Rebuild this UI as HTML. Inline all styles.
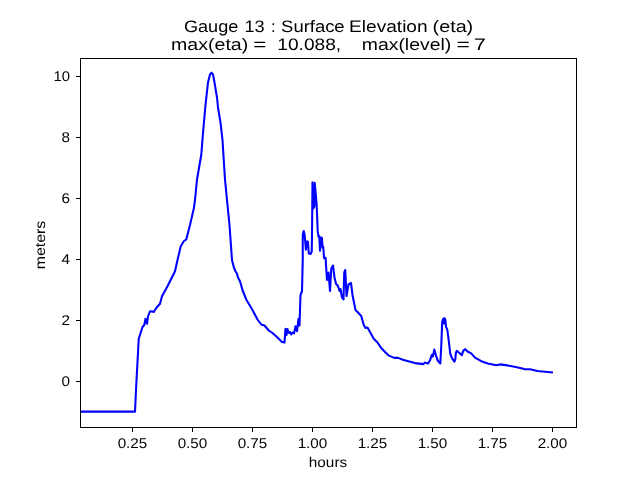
<!DOCTYPE html>
<html><head><meta charset="utf-8"><title>Gauge 13</title>
<style>
html,body{margin:0;padding:0;background:#fff;}
body{width:640px;height:480px;overflow:hidden;}
svg{display:block;}
text{font-family:"Liberation Sans",sans-serif;fill:#000;text-rendering:geometricPrecision;}
</style></head><body>
<svg width="640" height="480" viewBox="0 0 640 480">
<rect x="0" y="0" width="640" height="480" fill="#fff"/>
<defs><filter id="gs" x="0" y="0" width="640" height="480" filterUnits="userSpaceOnUse" color-interpolation-filters="sRGB"><feColorMatrix type="saturate" values="0"/></filter></defs>
<clipPath id="ax"><rect x="80.5" y="58.5" width="496" height="369"/></clipPath>
<path clip-path="url(#ax)" d="M80.00,411.60 L135.00,411.60 L136.25,385.00 L138.75,338.75 L142.50,327.00 L144.25,325.00 L145.50,318.75 L147.00,323.75 L148.00,316.50 L150.00,311.25 L152.50,311.50 L153.75,312.00 L156.25,308.00 L160.00,303.75 L162.00,296.25 L167.50,286.25 L175.00,271.25 L177.50,260.00 L180.75,246.25 L183.75,241.25 L186.25,239.50 L190.00,225.00 L193.75,208.75 L195.00,200.00 L197.00,179.50 L201.25,155.00 L203.25,130.00 L205.50,105.00 L208.00,82.50 L210.00,74.50 L211.50,72.70 L213.00,74.50 L214.50,82.50 L217.00,97.50 L218.00,107.50 L220.50,122.50 L222.50,140.00 L223.75,160.00 L225.00,179.50 L227.00,200.00 L229.50,225.00 L232.00,260.00 L233.75,267.00 L235.50,271.25 L237.00,273.75 L238.00,277.50 L240.00,281.25 L242.50,290.00 L246.25,299.50 L252.50,310.00 L257.50,319.50 L261.25,324.50 L264.50,325.50 L268.75,330.50 L272.50,333.00 L277.50,337.50 L282.00,342.00 L284.50,342.50 L285.50,328.75 L286.50,335.00 L287.50,329.00 L289.00,333.00 L290.00,332.00 L291.25,334.50 L292.50,332.50 L294.00,333.50 L295.50,326.25 L297.00,331.25 L298.50,318.75 L299.50,325.50 L300.50,295.00 L302.00,291.25 L302.75,259.60 L302.75,234.70 L303.70,231.00 L304.60,234.70 L305.90,249.70 L307.25,241.25 L308.00,242.20 L308.75,253.40 L310.60,254.00 L311.75,251.50 L312.10,226.25 L312.50,182.20 L313.25,208.40 L314.40,206.50 L314.75,182.75 L316.60,203.75 L317.75,231.90 L318.50,236.50 L319.25,236.00 L320.00,250.60 L321.00,237.50 L321.90,237.90 L322.60,247.80 L323.20,246.90 L324.10,258.10 L325.60,257.75 L326.00,265.00 L327.00,280.00 L328.50,272.50 L330.00,291.00 L331.25,268.75 L333.00,265.50 L334.50,277.50 L336.00,283.75 L338.00,286.00 L339.50,291.00 L340.50,289.00 L342.00,297.50 L343.50,299.50 L344.25,272.50 L345.25,270.00 L346.50,296.00 L348.50,284.50 L351.00,283.00 L352.50,295.00 L355.50,310.00 L358.00,312.50 L361.25,316.00 L363.75,325.00 L365.50,328.00 L367.50,327.50 L370.00,332.00 L373.75,338.75 L377.50,342.50 L381.25,348.10 L385.00,351.90 L388.75,355.60 L394.40,357.90 L398.10,357.90 L402.80,359.75 L408.40,361.25 L415.00,363.10 L423.40,364.10 L424.75,362.60 L428.10,363.50 L430.00,360.30 L431.90,354.70 L432.80,356.60 L434.30,349.60 L436.00,355.60 L437.90,360.90 L440.30,363.50 L441.25,346.25 L442.20,321.90 L443.10,319.00 L443.90,323.40 L444.40,318.10 L445.40,320.00 L445.90,326.60 L447.25,329.40 L448.75,340.60 L450.25,353.75 L452.10,358.40 L454.40,361.60 L455.30,359.40 L455.90,352.80 L456.80,350.90 L459.10,352.80 L461.90,355.10 L463.20,350.90 L465.25,349.10 L467.50,351.50 L471.25,353.40 L475.00,357.60 L481.25,361.20 L487.80,363.50 L496.25,365.20 L500.00,364.40 L507.50,365.40 L516.90,367.25 L524.40,369.10 L530.00,369.30 L537.50,371.00 L545.00,371.75 L553.00,372.50" fill="none" stroke="#0000ff" stroke-width="2.08" stroke-linejoin="round" stroke-linecap="butt"/>
<g stroke="#000" stroke-width="1" shape-rendering="crispEdges">
<line x1="132.5" y1="428" x2="132.5" y2="432"/>
<line x1="192.5" y1="428" x2="192.5" y2="432"/>
<line x1="252.5" y1="428" x2="252.5" y2="432"/>
<line x1="312.5" y1="428" x2="312.5" y2="432"/>
<line x1="372.5" y1="428" x2="372.5" y2="432"/>
<line x1="432.5" y1="428" x2="432.5" y2="432"/>
<line x1="492.5" y1="428" x2="492.5" y2="432"/>
<line x1="552.5" y1="428" x2="552.5" y2="432"/>
<line x1="76" y1="76.5" x2="80" y2="76.5"/>
<line x1="76" y1="137.5" x2="80" y2="137.5"/>
<line x1="76" y1="198.5" x2="80" y2="198.5"/>
<line x1="76" y1="259.5" x2="80" y2="259.5"/>
<line x1="76" y1="320.5" x2="80" y2="320.5"/>
<line x1="76" y1="381.5" x2="80" y2="381.5"/>
</g>
<rect x="80.5" y="58.5" width="496" height="369" fill="none" stroke="#000" stroke-width="1" shape-rendering="crispEdges"/>
<g filter="url(#gs)">
<text x="132.5" y="448" font-size="14.1" text-anchor="middle" textLength="29.7" lengthAdjust="spacingAndGlyphs">0.25</text>
<text x="192.5" y="448" font-size="14.1" text-anchor="middle" textLength="29.7" lengthAdjust="spacingAndGlyphs">0.50</text>
<text x="252.5" y="448" font-size="14.1" text-anchor="middle" textLength="29.7" lengthAdjust="spacingAndGlyphs">0.75</text>
<text x="312.5" y="448" font-size="14.1" text-anchor="middle" textLength="29.7" lengthAdjust="spacingAndGlyphs">1.00</text>
<text x="372.5" y="448" font-size="14.1" text-anchor="middle" textLength="29.7" lengthAdjust="spacingAndGlyphs">1.25</text>
<text x="432.5" y="448" font-size="14.1" text-anchor="middle" textLength="29.7" lengthAdjust="spacingAndGlyphs">1.50</text>
<text x="492.5" y="448" font-size="14.1" text-anchor="middle" textLength="29.7" lengthAdjust="spacingAndGlyphs">1.75</text>
<text x="552.5" y="448" font-size="14.1" text-anchor="middle" textLength="29.7" lengthAdjust="spacingAndGlyphs">2.00</text>
<text x="69.9" y="81.1" font-size="14.1" text-anchor="end" textLength="16.5" lengthAdjust="spacingAndGlyphs">10</text>
<text x="69.9" y="142.1" font-size="14.1" text-anchor="end" textLength="8.5" lengthAdjust="spacingAndGlyphs">8</text>
<text x="69.9" y="203.1" font-size="14.1" text-anchor="end" textLength="8.5" lengthAdjust="spacingAndGlyphs">6</text>
<text x="69.9" y="264.1" font-size="14.1" text-anchor="end" textLength="8.5" lengthAdjust="spacingAndGlyphs">4</text>
<text x="69.9" y="325.1" font-size="14.1" text-anchor="end" textLength="8.5" lengthAdjust="spacingAndGlyphs">2</text>
<text x="69.9" y="386.1" font-size="14.1" text-anchor="end" textLength="8.5" lengthAdjust="spacingAndGlyphs">0</text>
<text x="328" y="466.6" font-size="14.1" text-anchor="middle" textLength="38.3" lengthAdjust="spacingAndGlyphs">hours</text>
<text transform="translate(44.75,245) rotate(-90)" font-size="14.1" text-anchor="middle" textLength="48.5" lengthAdjust="spacingAndGlyphs">meters</text>
<text x="183.9" y="31.6" font-size="16.6" textLength="54.40" lengthAdjust="spacingAndGlyphs">Gauge</text>
<text x="244.4" y="31.6" font-size="16.6" textLength="20.20" lengthAdjust="spacingAndGlyphs">13</text>
<text x="281.1" y="31.6" font-size="16.6" textLength="63.50" lengthAdjust="spacingAndGlyphs">Surface</text>
<text x="349.1" y="31.6" font-size="16.6" textLength="78.50" lengthAdjust="spacingAndGlyphs">Elevation</text>
<text x="432.6" y="31.6" font-size="16.6" textLength="40.60" lengthAdjust="spacingAndGlyphs">(eta)</text>
<text x="171.1" y="49.6" font-size="16.6" textLength="77.10" lengthAdjust="spacingAndGlyphs">max(eta)</text>
<text x="253.2" y="49.6" font-size="16.6" textLength="13.10" lengthAdjust="spacingAndGlyphs">=</text>
<text x="277.3" y="49.6" font-size="16.6" textLength="63.90" lengthAdjust="spacingAndGlyphs">10.088,</text>
<text x="361.8" y="49.6" font-size="16.6" textLength="89.40" lengthAdjust="spacingAndGlyphs">max(level)</text>
<text x="456.5" y="49.6" font-size="16.6" textLength="13.30" lengthAdjust="spacingAndGlyphs">=</text>
<text x="474.0" y="49.6" font-size="16.6" textLength="11.80" lengthAdjust="spacingAndGlyphs">7</text>
<text x="270.9" y="31.6" font-size="16.6">:</text>
</g>
</svg>
</body></html>
